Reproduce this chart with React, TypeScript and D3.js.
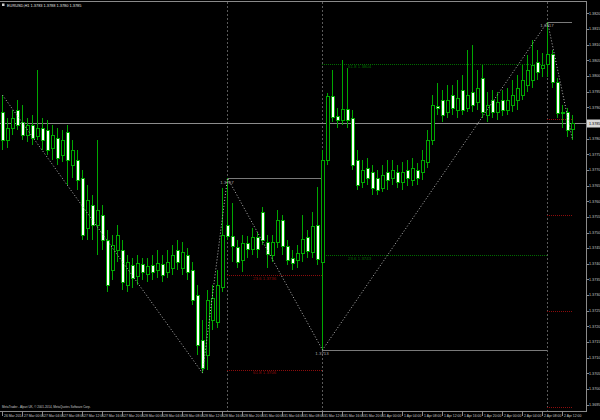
import React from "react";
import * as d3 from "d3";

const symbolTitle = "EURUSD,H1";
const copyright = "MetaTrader - Alpari UK, \u00a9 2001-2014, MetaQuotes Software Corp.";

const opens = [1.37885,1.37796,1.37834,1.37892,1.37853,1.37812,1.37844,1.37809,1.37834,1.37828,1.37770,1.37802,1.37748,1.37821,1.37716,1.37732,1.37674,1.37514,1.37588,1.37524,1.37556,1.37476,1.37380,1.37444,1.37444,1.37332,1.37396,1.37361,1.37400,1.37368,1.37396,1.37380,1.37400,1.37374,1.37387,1.37444,1.37387,1.37428,1.37380,1.37300,1.37157,1.37109,1.37221,1.37214,1.37326,1.37524,1.37489,1.37454,1.37412,1.37467,1.37447,1.37486,1.37566,1.37470,1.37428,1.37470,1.37540,1.37457,1.37419,1.37412,1.37435,1.37486,1.37438,1.37524,1.37406,1.37732,1.37936,1.37872,1.37860,1.37895,1.37866,1.37732,1.37661,1.37706,1.37693,1.37674,1.37642,1.37693,1.37674,1.37693,1.37661,1.37700,1.37668,1.37700,1.37693,1.37725,1.37796,1.37904,1.37924,1.37885,1.37939,1.37892,1.37955,1.37898,1.37949,1.37917,1.37994,1.37876,1.37924,1.37885,1.37924,1.37892,1.37908,1.37924,1.37939,1.37971,1.37987,1.38045,1.38026,1.38039,1.38070,1.37981,1.37885,1.37885,1.37831];
const highs = [1.37939,1.37866,1.37892,1.37924,1.37908,1.37866,1.37876,1.38019,1.37866,1.37860,1.37844,1.37834,1.37828,1.37844,1.37796,1.37764,1.37700,1.37652,1.37620,1.37796,1.37588,1.37508,1.37492,1.37524,1.37476,1.37428,1.37419,1.37428,1.37419,1.37419,1.37428,1.37444,1.37428,1.37444,1.37460,1.37476,1.37470,1.37451,1.37406,1.37332,1.37221,1.37316,1.37332,1.37380,1.37642,1.37674,1.37594,1.37476,1.37492,1.37489,1.37514,1.37502,1.37582,1.37492,1.37492,1.37572,1.37556,1.37476,1.37444,1.37460,1.37556,1.37508,1.37566,1.37646,1.37764,1.37946,1.38019,1.37898,1.38051,1.38026,1.37892,1.37764,1.37732,1.37738,1.37716,1.37700,1.37716,1.37732,1.37732,1.37716,1.37725,1.37732,1.37738,1.37722,1.37764,1.37828,1.37939,1.37978,1.37955,1.37971,1.37971,1.37987,1.38003,1.38083,1.38099,1.38019,1.38035,1.37949,1.37955,1.37949,1.37955,1.37962,1.37987,1.38003,1.38035,1.38067,1.38115,1.38083,1.38074,1.38173,1.38083,1.37994,1.37908,1.37898,1.37876];
const lows = [1.37764,1.37770,1.37812,1.37828,1.37796,1.37789,1.37780,1.37796,1.37764,1.37748,1.37732,1.37716,1.37725,1.37652,1.37674,1.37636,1.37476,1.37476,1.37476,1.37428,1.37444,1.37310,1.37348,1.37406,1.37316,1.37310,1.37323,1.37332,1.37348,1.37342,1.37348,1.37355,1.37342,1.37355,1.37364,1.37380,1.37364,1.37348,1.37269,1.37109,1.37051,1.37061,1.37189,1.37195,1.37310,1.37476,1.37406,1.37387,1.37374,1.37419,1.37428,1.37419,1.37460,1.37387,1.37406,1.37451,1.37428,1.37396,1.37380,1.37387,1.37406,1.37419,1.37419,1.37396,1.37125,1.37716,1.37853,1.37834,1.37844,1.37834,1.37700,1.37636,1.37642,1.37652,1.37620,1.37620,1.37629,1.37636,1.37652,1.37642,1.37636,1.37649,1.37649,1.37652,1.37668,1.37706,1.37780,1.37876,1.37853,1.37866,1.37876,1.37866,1.37876,1.37885,1.37885,1.37892,1.37866,1.37853,1.37866,1.37860,1.37872,1.37876,1.37885,1.37892,1.37924,1.37949,1.37962,1.37987,1.37997,1.37997,1.37962,1.37866,1.37834,1.37805,1.37796];
const closes = [1.37796,1.37834,1.37866,1.37844,1.37812,1.37844,1.37802,1.37834,1.37796,1.37764,1.37812,1.37738,1.37796,1.37732,1.37764,1.37668,1.37492,1.37604,1.37524,1.37572,1.37476,1.37332,1.37460,1.37492,1.37342,1.37406,1.37355,1.37403,1.37374,1.37393,1.37374,1.37403,1.37364,1.37406,1.37428,1.37406,1.37438,1.37374,1.37284,1.37141,1.37067,1.37284,1.37291,1.37332,1.37492,1.37489,1.37457,1.37406,1.37467,1.37447,1.37486,1.37447,1.37476,1.37431,1.37470,1.37540,1.37457,1.37412,1.37403,1.37435,1.37479,1.37441,1.37521,1.37415,1.37732,1.37936,1.37869,1.37860,1.37895,1.37860,1.37716,1.37652,1.37700,1.37674,1.37642,1.37636,1.37684,1.37668,1.37700,1.37661,1.37693,1.37674,1.37706,1.37674,1.37732,1.37796,1.37908,1.37898,1.37876,1.37924,1.37898,1.37930,1.37892,1.37939,1.37908,1.37962,1.37885,1.37908,1.37885,1.37917,1.37892,1.37924,1.37939,1.37962,1.37987,1.38019,1.38035,1.38013,1.38035,1.38070,1.37981,1.37882,1.37882,1.37828,1.37850];

const timeTickLabels = ["26 Mar 2014","27 Mar 00:00","27 Mar 04:00","27 Mar 08:00","27 Mar 12:00","27 Mar 16:00","27 Mar 20:00","28 Mar 00:00","28 Mar 04:00","28 Mar 08:00","28 Mar 12:00","28 Mar 16:00","28 Mar 20:00","31 Mar 00:00","31 Mar 04:00","31 Mar 08:00","31 Mar 12:00","31 Mar 16:00","31 Mar 20:00","1 Apr 00:00","1 Apr 04:00","1 Apr 08:00","1 Apr 12:00","1 Apr 16:00","1 Apr 20:00","2 Apr 00:00","2 Apr 04:00","2 Apr 08:00","2 Apr 12:00"];
const timeTickIndex = [0,4,8,12,16,20,24,28,32,36,40,44,48,52,56,60,64,68,72,76,80,84,88,92,96,100,104,108,112];

const priceTicks = [1.3695,1.3700,1.3705,1.3710,1.3715,1.3720,1.3725,1.3730,1.3735,1.3740,1.3745,1.3750,1.3755,1.3760,1.3765,1.3770,1.3775,1.3780,1.3790,1.3795,1.3800,1.3805,1.3810,1.3815,1.3820];

const zigzagIndex = [0, 40, 45, 64, 109, 114];
const zigzagPrice = [1.37939, 1.37051, 1.37674, 1.37125, 1.38173, 1.37796];

// pivot levels: start index, end index, price (gray lines + labels)
const pivotStart = [45, 64, 109];
const pivotEnd = [64, 109, 114];
const pivotPrice = [1.37674, 1.37125, 1.38173];

// fibonacci-style levels
const fibStart = [45, 45, 64, 64, 109, 109, 109, 109];
const fibEnd = [64, 64, 109, 109, 114, 114, 114, 114];
const fibPrice = [1.37364, 1.37061, 1.38039, 1.37428, 1.37863, 1.37556, 1.37249, 1.36943];
const fibLevel = ["23.6", "61.8", "61.8", "23.6", "", "", "", ""];
const fibKind = ["red", "red", "green", "green", "red", "red", "red", "red"];

const W = 600;
const H = 420;
const plotRight = 586;
const plotBottom = 411;

export default function App() {
  const n = opens.length;
  const x = d3.scaleLinear().domain([0, n - 1]).range([2, 2 + 5 * (n - 1)]);
  const y = d3.scaleLinear().domain([1.36933, 1.38243]).range([410, 0]);
  const last = n - 1;
  const current = closes[last];
  const cy = Math.round(y(current)) + 0.5;

  const zz = d3
    .line<number>()
    .x((_, k) => x(zigzagIndex[k]) + 0.5)
    .y((p) => y(p))(zigzagPrice);

  const fmt = (v: number) => v.toFixed(4);
  const font = "'Liberation Sans', Arial, sans-serif";
  const green = "#00a800";
  const fibColor = (k: string) => (k === "red" ? "#8c0c0c" : "#006c00");

  return (
    <svg
      width={W}
      height={H}
      style={{ position: "fixed", left: 0, top: 0, background: "#000" }}
      fontFamily={font}
    >
      <rect x={0} y={0} width={W} height={H} fill="#000" />
      {/* frame */}
      <line x1={0} x2={plotRight} y1={1.5} y2={1.5} stroke="#8a8a8a" shapeRendering="crispEdges" />
      <line x1={plotRight + 0.5} x2={plotRight + 0.5} y1={1} y2={plotBottom} stroke="#8a8a8a" shapeRendering="crispEdges" />
      <line x1={0} x2={plotRight + 1} y1={plotBottom + 0.5} y2={plotBottom + 0.5} stroke="#8a8a8a" shapeRendering="crispEdges" />

      {/* vertical pivot lines */}
      {pivotStart.map((s, k) => (
        <line
          key={"pv" + k}
          x1={x(s) + 0.5}
          x2={x(s) + 0.5}
          y1={2}
          y2={plotBottom}
          stroke="#5a5a5a"
          strokeDasharray="2,2"
          shapeRendering="crispEdges"
        />
      ))}

      {/* current price line */}
      <line x1={0} x2={plotRight} y1={cy} y2={cy} stroke="#8c8c8c" shapeRendering="crispEdges" />

      {/* fib levels */}
      {fibPrice.map((p, k) => (
        <line
          key={"fb" + k}
          x1={x(fibStart[k])}
          x2={x(fibEnd[k])}
          y1={Math.round(y(p)) + 0.5}
          y2={Math.round(y(p)) + 0.5}
          stroke={fibColor(fibKind[k])}
          strokeDasharray="1,1"
          shapeRendering="crispEdges"
        />
      ))}
      {fibPrice.map((p, k) =>
        fibLevel[k] ? (
          <text
            key={"fbt" + k}
            x={x(fibStart[k]) + 26}
            y={y(p) + 4.5}
            fontSize={4.4}
            fill={fibColor(fibKind[k])}
          >
            {fibLevel[k] + " " + fmt(p)}
          </text>
        ) : null
      )}

      {/* pivot level lines */}
      {pivotPrice.map((p, k) => (
        <line
          key={"pl" + k}
          x1={x(pivotStart[k])}
          x2={x(pivotEnd[k])}
          y1={Math.round(y(p)) + 0.5}
          y2={Math.round(y(p)) + 0.5}
          stroke="#7a7a7a"
          shapeRendering="crispEdges"
        />
      ))}

      {/* candles */}
      {opens.map((o, i) => {
        const c = closes[i];
        const cx = x(i);
        const top = Math.round(y(Math.max(o, c)));
        const bot = Math.round(y(Math.min(o, c)));
        const bear = c < o;
        return (
          <g key={"c" + i} shapeRendering="crispEdges">
            <line
              x1={cx + 0.5}
              x2={cx + 0.5}
              y1={Math.round(y(highs[i]))}
              y2={Math.round(y(lows[i]))}
              stroke={green}
            />
            {bot - top < 1 ? (
              <line x1={cx - 1} x2={cx + 3} y1={top + 0.5} y2={top + 0.5} stroke={green} />
            ) : (
              <rect
                x={cx - 0.5}
                y={top + 0.5}
                width={3}
                height={bot - top}
                fill={bear ? "#ffffff" : "#000000"}
                stroke={green}
              />
            )}
          </g>
        );
      })}

      {/* zigzag */}
      <path d={zz || ""} fill="none" stroke="#b8b8b8" strokeWidth={1} strokeDasharray="1,2" />

      {/* pivot price labels */}
      {pivotPrice.map((p, k) => (
        <text
          key={"plt" + k}
          x={x(pivotStart[k])}
          y={y(p) + 5.5}
          fontSize={4.4}
          fill="#a8a8a8"
          textAnchor="middle"
        >
          {fmt(p)}
        </text>
      ))}

      {/* price axis */}
      {priceTicks.map((t) => (
        <g key={"pt" + t}>
          <line
            x1={plotRight}
            x2={plotRight + 3}
            y1={Math.round(y(t)) + 0.5}
            y2={Math.round(y(t)) + 0.5}
            stroke="#8a8a8a"
            shapeRendering="crispEdges"
          />
          <text x={plotRight + 3} y={y(t) + 1.3} fontSize={3.7} fill="#c8c8c8">
            {fmt(t)}
          </text>
        </g>
      ))}
      <rect x={plotRight + 1} y={cy - 4} width={W - plotRight - 1} height={8} fill="#d8d8d8" />
      <text x={plotRight + 3} y={cy + 1.5} fontSize={3.7} fill="#000">
        {fmt(current)}
      </text>

      {/* time axis */}
      {timeTickIndex.map((ti, k) => (
        <g key={"tt" + k}>
          <line
            x1={x(ti) + 0.5}
            x2={x(ti) + 0.5}
            y1={plotBottom}
            y2={plotBottom + 5}
            stroke="#8a8a8a"
            shapeRendering="crispEdges"
          />
          <text x={x(ti) + 2} y={plotBottom + 5.5} fontSize={3.4} fill="#c8c8c8">
            {timeTickLabels[k]}
          </text>
        </g>
      ))}

      {/* title */}
      <rect x={2} y={3.5} width={2.5} height={2.5} fill="#d0d0d0" />
      <text x={7} y={7} fontSize={3.9} fill="#e0e0e0">
        {symbolTitle + "  " + [opens[last], highs[last], lows[last], closes[last]].map(fmt).join(" ")}
      </text>

      {/* copyright */}
      <text x={2} y={408} fontSize={3.0} fill="#c8c8c8">
        {copyright}
      </text>
    </svg>
  );
}
